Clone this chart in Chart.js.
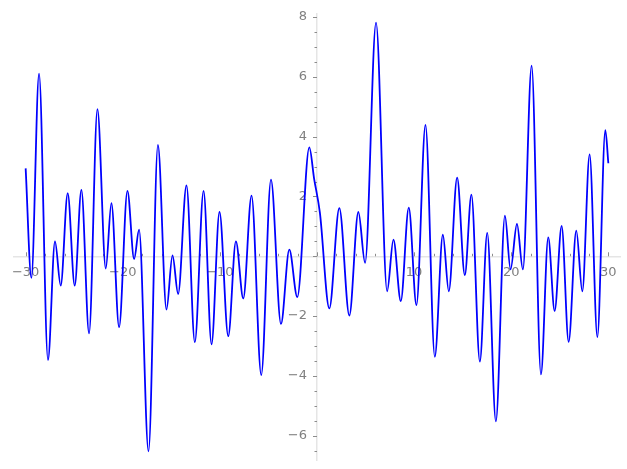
<!DOCTYPE html>
<html>
<head>
<meta charset="utf-8">
<script src="https://cdn.jsdelivr.net/npm/chart.js@4.4.1/dist/chart.umd.min.js"></script>
<style>
  html, body { margin: 0; padding: 0; background: #fff; }
  #wrap { width: 627px; height: 469px; }
</style>
</head>
<body>
<div id="wrap"><canvas id="plot"></canvas></div>
<script>
// curve samples (turning points plus a shoulder near 0)
const xValues = [-30, -29.41, -28.62, -27.70, -26.98, -26.39, -25.67, -24.95, -24.26, -23.47,
  -22.61, -21.75, -21.17, -20.38, -19.52, -18.83, -18.32, -17.35, -16.38, -15.50,
  -14.88, -14.30, -13.44, -12.58, -11.68, -10.86, -10.04, -9.14, -8.35, -7.59,
  -6.74, -5.74, -4.74, -3.71, -2.85, -2.03, -0.79, -0.30, 0.30, 1.27,
  2.30, 3.33, 4.26, 4.95, 6.08, 7.22, 7.87, 8.63, 9.45, 10.24,
  11.17, 12.13, 12.96, 13.57, 14.43, 15.22, 15.90, 16.77, 17.53, 18.42,
  19.35, 19.93, 20.59, 21.20, 22.10, 23.06, 23.81, 24.47, 25.19, 25.91,
  26.70, 27.32, 28.07, 28.87, 29.69, 30];
const yValues = [2.94, -0.72, 6.11, -3.47, 0.50, -0.98, 2.11, -0.98, 2.22, -2.58,
  4.92, -0.41, 1.78, -2.37, 2.19, -0.09, 0.89, -6.52, 3.72, -1.78,
  0.03, -1.26, 2.37, -2.87, 2.19, -2.94, 1.48, -2.67, 0.50, -1.41,
  2.03, -3.97, 2.56, -2.26, 0.22, -1.36, 3.64, 2.60, 1.45, -1.74,
  1.61, -1.98, 1.48, -0.22, 7.81, -1.17, 0.56, -1.50, 1.63, -1.63,
  4.39, -3.36, 0.72, -1.17, 2.63, -0.63, 2.06, -3.52, 0.78, -5.52,
  1.36, -0.44, 1.08, -0.44, 6.37, -3.95, 0.63, -1.83, 1.02, -2.86,
  0.86, -1.17, 3.41, -2.70, 4.22, 3.11];

const xTicks = [-30, -28, -26, -24, -22, -20, -18, -16, -14, -12, -10, -8, -6, -4, -2,
  0, 2, 4, 6, 8, 10, 12, 14, 16, 18, 20, 22, 24, 26, 28, 30];
const xLabelTicks = [-30, -20, -10, 10, 20, 30];
const yTicks = [-6.5, -6, -5.5, -5, -4.5, -4, -3.5, -3, -2.5, -2, -1.5, -1, -0.5, 0,
  0.5, 1, 1.5, 2, 2.5, 3, 3.5, 4, 4.5, 5, 5.5, 6, 6.5, 7, 7.5, 8];
const yLabelTicks = [-6, -4, -2, 2, 4, 6, 8];

const points = xValues.map((x, i) => ({ x: x, y: yValues[i] }));

function fmt(v) {
  return v < 0 ? "\u2212" + Math.abs(v) : String(v);
}

// small tick marks (longer on labelled values) and the y labels left of the axis
const tickMarks = {
  id: "tickMarks",
  beforeDatasetsDraw(chart) {
    const c = chart.ctx;
    const sx = chart.scales.x, sy = chart.scales.y;
    const x0 = sx.getPixelForValue(0), y0 = sy.getPixelForValue(0);
    c.save();
    c.strokeStyle = "#8c8c8c";
    c.lineWidth = 1;
    c.beginPath();
    xTicks.forEach(v => {
      const px = Math.round(sx.getPixelForValue(v)) + 0.5;
      const len = v % 10 === 0 ? 4 : 2.5;
      c.moveTo(px, y0);
      c.lineTo(px, y0 - len);
    });
    yTicks.forEach(v => {
      const py = Math.round(sy.getPixelForValue(v)) + 0.5;
      const len = v % 2 === 0 ? 4 : 2.5;
      c.moveTo(x0, py);
      c.lineTo(x0 - len, py);
    });
    c.stroke();
    c.fillStyle = "#808080";
    c.font = "13px 'DejaVu Sans'";
    c.textAlign = "right";
    c.textBaseline = "middle";
    yLabelTicks.forEach(v => {
      c.fillText(fmt(v), x0 - 10, sy.getPixelForValue(v));
    });
    c.restore();
  }
};

Chart.defaults.font.family = "DejaVu Sans";
Chart.defaults.font.size = 13;
Chart.defaults.color = "#808080";

new Chart(document.getElementById("plot"), {
  type: "scatter",
  data: {
    datasets: [{
      data: points,
      showLine: true,
      borderColor: "#0000ff",
      borderWidth: 1.8,
      pointRadius: 0,
      cubicInterpolationMode: "monotone",
      fill: false
    }]
  },
  options: {
    responsive: true,
    maintainAspectRatio: false,
    animation: false,
    layout: { padding: { left: 14, right: 7, top: 14, bottom: 9 } },
    plugins: {
      legend: { display: false },
      tooltip: { enabled: false }
    },
    scales: {
      x: {
        type: "linear",
        position: { y: 0 },
        min: -31.2,
        max: 31.2,
        afterBuildTicks: s => { s.ticks = xLabelTicks.map(v => ({ value: v })); },
        ticks: { callback: v => fmt(v), padding: 9, maxRotation: 0, autoSkip: false },
        grid: { display: false, drawTicks: false },
        border: { display: true, color: "#e5e5e5", width: 1.5 }
      },
      y: {
        type: "linear",
        position: { x: 0 },
        min: -6.81,
        max: 8.10,
        ticks: { display: false },
        grid: { display: false, drawTicks: false },
        border: { display: true, color: "#e5e5e5", width: 1.5 }
      }
    }
  },
  plugins: [tickMarks]
});
</script>
</body>
</html>
